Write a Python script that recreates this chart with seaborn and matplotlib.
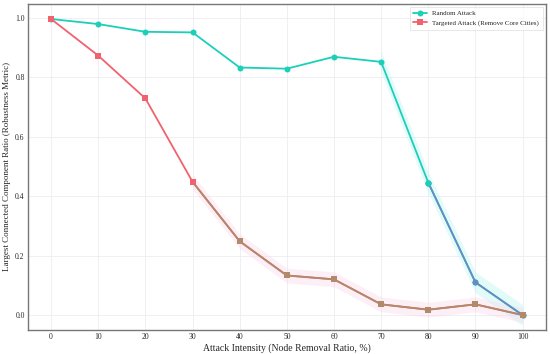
import numpy as np
import pandas as pd
import seaborn as sns
import matplotlib.pyplot as plt

# removal ratio (%) and largest connected component ratio
ratios = [0, 10, 20, 30, 40, 50, 60, 70, 80, 90, 100]
random_lcc = [0.995, 0.978, 0.952, 0.950, 0.832, 0.828, 0.868, 0.851, 0.445, 0.110, 0.0]
targeted_lcc = [0.995, 0.872, 0.728, 0.448, 0.248, 0.133, 0.120, 0.036, 0.018, 0.036, 0.0]
labels = ['Random Attack', 'Targeted Attack (Remove Core Cities)']

colors = {labels[0]: '#1ccfb8', labels[1]: '#f0626e'}

df = pd.DataFrame({
    'ratio': ratios * 2,
    'lcc': random_lcc + targeted_lcc,
    'attack': [labels[0]] * len(ratios) + [labels[1]] * len(ratios),
})

sns.set_theme(style='whitegrid')
plt.rcParams['font.family'] = ['Liberation Serif', 'DejaVu Serif']

fig, ax = plt.subplots(figsize=(5.5, 3.54), dpi=100)

# faint spread bands around the tails
r = np.array(ratios)
ax.fill_between(r[7:], np.array(random_lcc[7:]) - 0.035, np.array(random_lcc[7:]) + 0.035,
                color='#aef5f0', alpha=0.35, lw=0)
ax.fill_between(r[3:], np.array(targeted_lcc[3:]) - 0.025, np.array(targeted_lcc[3:]) + 0.025,
                color='#fcd3e8', alpha=0.35, lw=0)

sns.lineplot(data=df, x='ratio', y='lcc', hue='attack', style='attack',
             markers={labels[0]: 'o', labels[1]: 's'}, dashes=False,
             palette=colors, linewidth=1.3, markersize=4.3, markeredgewidth=0, ax=ax)

# tail segments drawn in blended tones
ax.plot(ratios[3:], targeted_lcc[3:], color='#b08a6a', lw=1.3, marker='s', ms=4.3, mew=0)
ax.plot(ratios[8:], random_lcc[8:], color='#6a8ac4', lw=1.3, marker='o', ms=4.3, mew=0, zorder=3)
ax.plot(ratios[8:9], random_lcc[8:9], color='#1ccfb8', marker='o', ms=4.3, mew=0, zorder=4)
ax.plot(ratios[3:4], targeted_lcc[3:4], color='#f0626e', marker='s', ms=4.3, mew=0, zorder=4)
ax.plot(ratios[10:], targeted_lcc[10:], color='#b08a6a', marker='s', ms=4.3, mew=0, zorder=5)

ax.set_xlim(-5, 105)
ax.set_ylim(-0.05, 1.047)
ax.set_xticks(ratios)
ax.set_yticks([0.0, 0.2, 0.4, 0.6, 0.8, 1.0])
ax.tick_params(labelsize=5.5, pad=2, length=0)
ax.grid(color='#ececf2', linewidth=0.6)
for s in ax.spines.values():
    s.set_color('#777777')
    s.set_linewidth(1.0)

ax.set_xlabel('Attack Intensity (Node Removal Ratio, %)', fontsize=7, labelpad=2)
ax.set_ylabel('Largest Connected Component Ratio (Robustness Metric)', fontsize=6.5, labelpad=3)

leg = ax.legend(loc='upper right', fontsize=5.0, frameon=True, fancybox=False,
                borderpad=0.5, handlelength=2.0)
leg.get_frame().set_edgecolor('#dddddd')
leg.get_frame().set_linewidth(0.6)

fig.subplots_adjust(left=0.05, right=0.993, top=0.99, bottom=0.068)
fig.savefig('out.png', dpi=100)
